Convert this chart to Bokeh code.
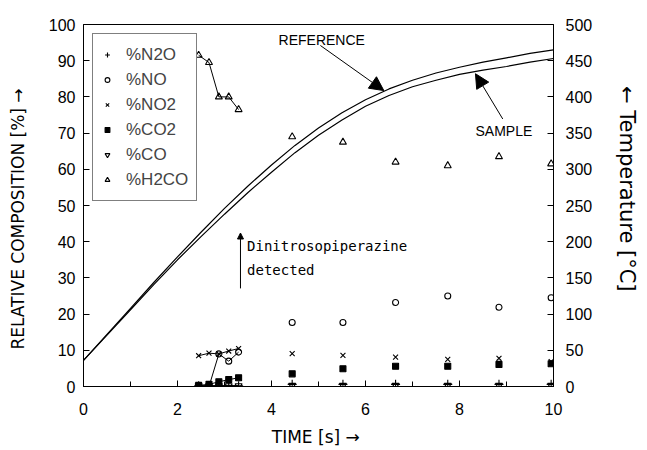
from bokeh.plotting import figure
from bokeh.models import (Range1d, LinearAxis, Legend, LegendItem, Arrow,
                          NormalHead, Label, SingleIntervalTicker)
from bokeh.embed import file_html
from bokeh.resources import INLINE

# ---------------- data ----------------
time_curve = [0, 0.5, 1, 1.5, 2, 2.5, 3, 3.5, 4, 4.5, 5, 5.5, 6, 6.5, 7,
              7.5, 8, 8.5, 9, 9.5, 10]
temp_reference = [36, 72, 108, 144, 179, 213, 246, 277, 306, 333, 357, 378,
                  396, 411, 423, 433, 441, 448, 454, 460, 465]
temp_sample = [36, 71, 106, 141, 175, 207, 238, 268, 296, 323, 347, 368,
               387, 402, 414, 423, 431, 437, 442, 448, 453]

t_early = [2.45, 2.67, 2.88, 3.09, 3.30]
t_late = [4.44, 5.52, 6.64, 7.75, 8.84, 9.95]

n2o_early = [0.2, 0.2, 0.2, 0.2, 0.2]
n2o_late = [0.6, 0.6, 0.6, 0.6, 0.6, 0.6]
no_early = [0.0, 0.0, 9.0, 7.0, 9.5]
no_late = [17.7, 17.7, 23.2, 25.0, 21.9, 24.5]
no2_early = [8.5, 9.2, 9.0, 9.8, 10.5]
no2_late = [9.1, 8.6, 8.1, 7.5, 7.8, 6.9]
co2_early = [0.3, 0.6, 1.3, 1.9, 2.4]
co2_late = [3.5, 4.9, 5.6, 5.6, 6.1, 6.3]
co_early = [0.2, 0.2, 0.2, 0.2, 0.2]
co_late = [0.3, 0.3, 0.3, 0.3, 0.3, 0.3]
h2co_early = [91.5, 89.5, 80.0, 80.0, 76.5]
h2co_late = [69.0, 67.5, 62.0, 61.0, 63.5, 61.5]

series_names = ["%N2O", "%NO", "%NO2", "%CO2", "%CO", "%H2CO"]

x_tick_interval = 2
y_tick_interval = 10
temp_tick_interval = 50

# ---------------- figure ----------------
FONT = "Liberation Sans"
LABEL_FONT = "DejaVu Sans"
p = figure(width=647, height=450, x_range=Range1d(0, 10), y_range=Range1d(0, 100),
           output_backend="svg", toolbar_location=None,
           min_border_left=83, min_border_right=94, min_border_top=24,
           min_border_bottom=64)
p.extra_y_ranges = {"temp": Range1d(0, 500)}
p.xgrid.visible = False
p.ygrid.visible = False
p.outline_line_color = "black"
p.outline_line_width = 1
p.background_fill_color = "white"
p.border_fill_color = "white"

left_axis = p.left[0]
bottom_axis = p.below[0]
right_axis = LinearAxis(y_range_name="temp")
p.add_layout(right_axis, "right")

bottom_axis.ticker = SingleIntervalTicker(interval=x_tick_interval, num_minor_ticks=2)
left_axis.ticker = SingleIntervalTicker(interval=y_tick_interval, num_minor_ticks=0)
right_axis.ticker = SingleIntervalTicker(interval=temp_tick_interval, num_minor_ticks=0)

for ax in [bottom_axis, left_axis, right_axis]:
    ax.major_tick_in = 6
    ax.major_tick_out = 0
    ax.minor_tick_in = 5
    ax.minor_tick_out = 0
    ax.axis_line_color = "black"
    ax.major_tick_line_color = "black"
    ax.minor_tick_line_color = "black"
    ax.major_label_text_font = FONT
    ax.major_label_text_font_size = "16px"
    ax.major_label_text_color = "black"
    ax.axis_label_text_font = LABEL_FONT
    ax.axis_label_text_font_size = "17px"
    ax.axis_label_text_font_style = "normal"
    ax.axis_label_text_color = "black"

left_axis.minor_tick_line_color = None
right_axis.minor_tick_line_color = None

bottom_axis.axis_label = "TIME  [s] \u2192"
bottom_axis.major_label_standoff = 16
bottom_axis.axis_label_standoff = 9
left_axis.axis_label = "RELATIVE  COMPOSITION  [%]    \u2192"
left_axis.major_label_standoff = 8
left_axis.axis_label_standoff = 18
right_axis.axis_label = "\u2190   Temperature    [\u00b0C]"
right_axis.axis_label_text_font_size = "21px"
right_axis.major_label_standoff = 12
right_axis.axis_label_standoff = 20

# ---------------- temperature curves ----------------
p.line(time_curve, temp_reference, y_range_name="temp", line_color="black", line_width=1.2)
p.line(time_curve, temp_sample, y_range_name="temp", line_color="black", line_width=1.2)

# ---------------- composition data ----------------
early = [n2o_early, no_early, no2_early, co2_early, co_early, h2co_early]
late = [n2o_late, no_late, no2_late, co2_late, co_late, h2co_late]
markers = ["cross", "circle", "x", "square", "inverted_triangle", "triangle"]
sizes = [9, 6, 7, 6, 7, 7]
fills = [None, None, None, "black", None, None]

items = []
for name, e, l, m, s, f in zip(series_names, early, late, markers, sizes, fills):
    p.line(t_early, e, line_color="black", line_width=1)
    r = p.scatter(t_early + t_late, e + l, marker=m, size=s, line_color="black",
                  fill_color=f, line_width=1.1)
    items.append(LegendItem(label=name, renderers=[r]))

legend = Legend(items=items, location="top_left", margin=9, padding=8,
                label_text_font=FONT, label_text_font_size="17px",
                label_height=25, glyph_height=25, glyph_width=12, spacing=0,
                label_standoff=13, border_line_color="black", border_line_width=1,
                background_fill_color="white", background_fill_alpha=1)
p.add_layout(legend)

# ---------------- annotations ----------------
p.add_layout(Label(x=4.15, y=95.8, text="REFERENCE", text_font=FONT,
                   text_font_size="14px", text_baseline="middle", text_color="black"))
p.add_layout(Arrow(end=NormalHead(size=14, fill_color="black", line_color="black"),
                   x_start=5.04, y_start=94.2, x_end=6.39, y_end=81.75,
                   line_color="black", line_width=1))
p.add_layout(Label(x=8.34, y=70.6, text="SAMPLE", text_font=FONT,
                   text_font_size="14px", text_baseline="middle", text_color="black"))
p.add_layout(Arrow(end=NormalHead(size=14, fill_color="black", line_color="black"),
                   x_start=8.92, y_start=73.9, x_end=8.34, y_end=86.4,
                   line_color="black", line_width=1))
p.add_layout(Arrow(end=NormalHead(size=6, fill_color="black", line_color="black"),
                   x_start=3.34, y_start=27.1, x_end=3.34, y_end=42.4,
                   line_color="black", line_width=1))
p.add_layout(Label(x=3.48, y=38.9, text="Dinitrosopiperazine", text_font="DejaVu Sans Mono",
                   text_font_size="14px", text_baseline="middle", text_color="black"))
p.add_layout(Label(x=3.48, y=32.2, text="detected", text_font="DejaVu Sans Mono",
                   text_font_size="14px", text_baseline="middle", text_color="black"))

open("out.html", "w").write(file_html(p, INLINE))
